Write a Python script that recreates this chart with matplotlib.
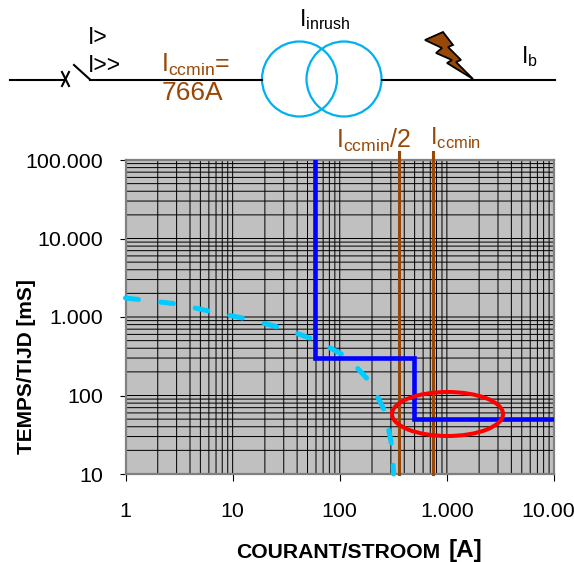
import matplotlib
matplotlib.use('Agg')
import matplotlib.pyplot as plt
from matplotlib.patches import Circle, Ellipse, Polygon

plt.rcParams['font.family'] = ['Liberation Sans', 'DejaVu Sans']
plt.rcParams['mathtext.fontset'] = 'custom'
plt.rcParams['mathtext.rm'] = 'Liberation Sans'

# values
blue_x = [59, 59, 490, 490, 10000]
blue_y = [100000, 300, 300, 50, 50]
inrush_x = [1, 3.03, 6.56, 13.6, 28.9, 58.8, 117, 192, 265, 308, 318]
inrush_y = [1746, 1465, 1159, 944, 724, 509, 310, 149, 62, 22, 10]
iccmin_half = 360
iccmin = 745
tick_vals_x = [1, 10, 100, 1000, 10000]
tick_labels_x = ['1', '10', '100', '1.000', '10.000']
tick_vals_y = [10, 100, 1000, 10000, 100000]
tick_labels_y = ['10', '100', '1.000', '10.000', '100.000']

brown = '#974706'
W, H = 574, 562

fig = plt.figure(figsize=(W / 100, H / 100), dpi=100)
ax = fig.add_axes([125.5 / W, 1 - 474 / H, 428.5 / W, 314 / H])
ax.set_facecolor('#c0c0c0')
ax.set_xscale('log')
ax.set_yscale('log')
ax.set_xlim(1, 10000)
ax.set_ylim(10, 100000)

# grid drawn unsnapped, so lines come out thin black or wider grey as in the reference
grid_x = [m * d for d in tick_vals_x[:-1] for m in range(1, 10)]
grid_y = [m * d for d in tick_vals_y[:-1] for m in range(1, 10)]
ax.vlines(grid_x, 10, 100000, color='black', lw=0.72, zorder=1).set_snap(False)
ax.hlines(grid_y, 1, 10000, color='black', lw=0.72, zorder=1).set_snap(False)

for s in ax.spines.values():
    s.set_color('#808080')
    s.set_linewidth(1.6)

ax.set_xticks(tick_vals_x, tick_labels_x, fontsize=15.4)
ax.set_yticks(tick_vals_y, tick_labels_y, fontsize=15.4)
ax.tick_params(which='minor', length=0)
ax.tick_params(axis='x', which='major', length=5, width=0.8, color='black', pad=15)
ax.tick_params(axis='y', which='major', length=4.3, width=0.8, color='black', pad=11.5)

ax.plot(inrush_x, inrush_y, color='#00ccff', lw=3.6, linestyle=(0, (2.6, 4.45)),
        dash_capstyle='round', clip_on=False, zorder=3)
ax.plot([iccmin_half, iccmin_half], [10, 125000], color=brown, lw=2.2, clip_on=False, zorder=4)
ax.plot([iccmin, iccmin], [10, 125000], color=brown, lw=2.2, clip_on=False, zorder=4)
ax.plot(blue_x, blue_y, color='#0000ff', lw=3.3, solid_joinstyle='miter',
        solid_capstyle='round', zorder=5)

# overlay in pixel coordinates for the schematic
ov = fig.add_axes([0, 0, 1, 1], facecolor='none')
ov.set_xlim(0, W)
ov.set_ylim(H, 0)
ov.axis('off')

ov.add_patch(Ellipse((447.5, 414), 111, 44, fill=False, edgecolor='#ff0000', lw=2.9, zorder=6))

line_y = 79.5
ov.plot([10, 65], [line_y, line_y], color='black', lw=1.5)
ov.plot([90, 262], [line_y, line_y], color='black', lw=1.5)
ov.plot([382, 555], [line_y, line_y], color='black', lw=1.5)
ov.plot([62, 69], [72, 86], color='black', lw=1.5)
ov.plot([69, 62], [72, 86], color='black', lw=1.5)
ov.plot([74, 90], [65, line_y], color='black', lw=1.5)
ov.add_patch(Circle((299.5, 79), 37.5, fill=False, edgecolor='#00b0f0', lw=1.6))
ov.add_patch(Circle((344, 79), 37.5, fill=False, edgecolor='#00b0f0', lw=1.6))

bolt = [(425, 40), (443, 32), (453, 45), (448, 47), (461, 60), (456, 62),
        (473, 79), (447, 63), (452, 60), (436, 53), (442, 48)]
ov.add_patch(Polygon(bolt, closed=True, facecolor=brown, edgecolor='black', lw=1.3))

ov.text(88, 37, 'I>', fontsize=16.5, va='center')
ov.text(88, 65, 'I>>', fontsize=16.5, va='center')
ov.text(299, 20, r'I$_{\mathregular{inrush}}$', fontsize=16.5, va='center')
ov.text(521, 57, r'I$_{\mathregular{b}}$', fontsize=16.5, va='center')
ov.text(161, 65, r'I$_{\mathregular{ccmin}}$=', fontsize=18, color=brown, va='center')
ov.text(162, 93, '766A', fontsize=19, color=brown, va='center')
ov.text(336, 140, r'I$_{\mathregular{ccmin}}$/2', fontsize=18, color=brown, va='center')
ov.text(430, 138, r'I$_{\mathregular{ccmin}}$', fontsize=17, color=brown, va='center')

ov.text(27, 367, 'TEMPS/TIJD [mS]', fontsize=15, fontweight='bold', rotation=90,
        ha='center', va='center')
ov.text(236, 552, 'COURANT/STROOM', fontsize=15.2, fontweight='bold', va='center')
ov.text(449, 550, '[A]', fontsize=17.5, fontweight='bold', va='center')

fig.savefig('out.png', dpi=100)
